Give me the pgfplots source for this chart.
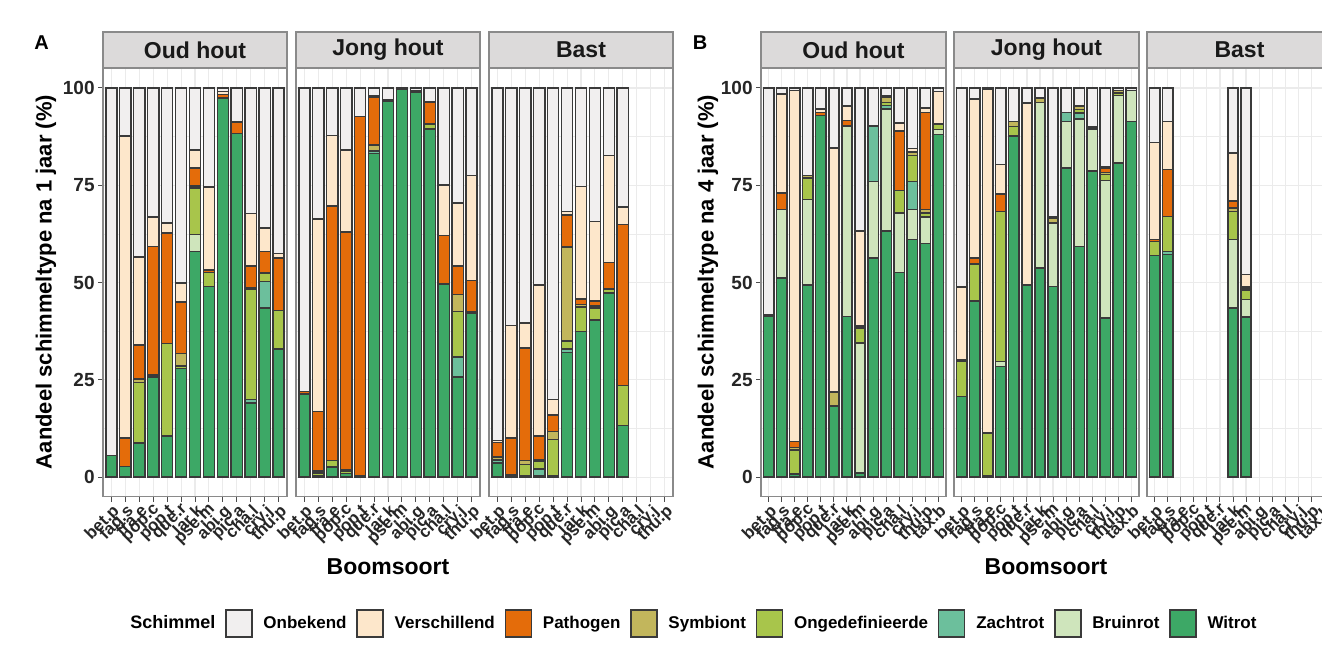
\documentclass[border=0pt]{standalone}
\usepackage{fontspec}
\setmainfont{Liberation Sans}
\usepackage{pgfplots}
\usepackage{pgfplotstable}
\pgfplotsset{compat=1.18}

\definecolor{cU}{HTML}{F1EFEF}
\definecolor{cV}{HTML}{FDE7CB}
\definecolor{cP}{HTML}{E46C0A}
\definecolor{cS}{HTML}{C2B65C}
\definecolor{cO}{HTML}{A8C54B}
\definecolor{cZ}{HTML}{6CBF9C}
\definecolor{cB}{HTML}{CFE5BC}
\definecolor{cW}{HTML}{3DA866}
\definecolor{bd}{HTML}{3A3A3A}
\definecolor{stripfill}{HTML}{DCDADA}
\definecolor{frame}{HTML}{8A8A8A}
\definecolor{gridc}{HTML}{EBEBEB}

% A: 1 jaar
\pgfplotstableread{
x W B Z O S P V U
1 5.6 0 0 0 0 0 0 94.4
2 2.7 0 0 0 0 7.3 77.6 12.4
3 8.7 0 0 15.6 0.9 8.7 22.6 43.5
4 25.7 0 0 0 0.5 33.1 7.5 33.2
5 10.5 0 0 23.8 0 28.4 2.6 34.7
6 27.9 0 0 0.7 3.2 13.2 4.9 50.1
7 58 4.4 0 11.9 0.5 4.6 4.6 16
8 49 0 0 3.6 0 0.6 21.3 25.5
9 97.4 0 0 0 0 0.9 0.8 0.9
10 88.3 0 0 0 0 2.9 0 8.8
11 19 0 0.9 28.4 0.3 5.7 13.4 32.3
12 43.4 0 6.9 2.1 0 5.6 6 36
13 32.9 0 0 9.9 0 13.5 1.1 42.6
}\AOud
\pgfplotstableread{
x W B Z O S P V U
1 21.4 0 0 0 0 0.6 0 78
2 0.3 0 0 0.8 0.4 15.4 49.4 33.7
3 2.6 0 0 1.7 0 65.3 18.2 12.2
4 0.9 0 0 0.6 0.5 61 21.1 15.9
5 0.3 0 0 0 0 92.4 0 7.3
6 83.1 0 0.7 0 1.6 12.3 0.4 1.9
7 96.6 0 0 0 0 0.4 0 3
8 99.6 0 0 0 0 0 0 0.4
9 98.9 0 0 0 0 0 0.4 0.7
10 89.5 0 0 1.3 0 5.6 0 3.6
11 49.6 0 0 0 0 12.5 12.9 25
12 25.7 0 5.1 11.8 4.3 7.3 16.2 29.6
13 42.2 0 0 0 0.4 7.9 27 22.5
}\AJong
\pgfplotstableread{
x W B Z O S P V U
1 3.6 0 0.8 0 0.8 3.7 0.5 90.6
2 0.5 0 0 0 0 9.5 28.9 61.1
3 0.3 0 0 2.9 1.1 28.9 6.4 60.4
4 0.3 0 1.8 1.9 0.4 6.1 38.9 50.6
5 0.3 0 0 9.3 2.1 4.2 4 80.1
6 32 0 0.9 2.1 24.1 8.3 0.9 31.7
7 37.4 0 0 6.3 0.6 1.5 28.9 25.3
8 40.4 0 0 3.1 0.4 1.3 20.5 34.3
9 47.3 0 0 1 0 6.9 27.4 17.4
10 13.2 0 0 10.3 0 41.4 4.5 30.6
}\ABast
% B: 4 jaar
\pgfplotstableread{
x W B Z O S P V U
1 41.3 0 0 0 0 0.4 0 58.3
2 51.2 17.5 0 0 0 4.3 25.5 1.5
3 0.8 0 0 6.2 0.6 1.6 90.2 0.6
4 49.4 21.9 0 5.6 0.6 0 0 22.5
5 92.9 0 0 0 0 0.8 0.9 5.4
6 18.2 0 0 0 3.6 0 62.8 15.4
7 41.3 48.9 0 0 0 1.5 3.6 4.7
8 1 33.4 0 3.9 0.5 0 24.5 36.7
9 56.3 19.7 14.2 0 0 0 0 9.8
10 63.2 31.4 0.9 0.7 1.3 0.4 0 2.1
11 52.6 15.3 0 5.8 0 15.2 2.1 9
12 61 7.7 7.3 6.6 0.9 0 1 15.5
13 60 6.8 0 1.1 0.8 25 1.2 5.1
14 88 1.3 0 1.5 0 0 8.3 0.9
}\BOud
\pgfplotstableread{
x W B Z O S P V U
1 20.7 0 0 9 0.4 0 18.7 51.2
2 45.2 0 0 9.6 0 1.5 40.9 2.8
3 0.3 0 0 11 0 0 88.3 0.4
4 28.4 1.3 0 38.6 0 4.5 7.5 19.7
5 87.6 0 0 2.5 1.3 0 0 8.6
6 49.4 0 0 0 0 0 46.7 3.9
7 53.7 42.6 0 0 1.1 0 0 2.6
8 49 16.3 0 0 1.3 0.4 0 33
9 79.4 12 2.3 0 0 0 0 6.3
10 59.3 32.7 1.6 0.8 1 0 0 4.6
11 78.6 10.9 0 0 0 0.5 0 10
12 40.9 35.3 0 1.5 0.6 1.1 0.4 20.2
13 80.7 17.3 0 0.7 0.7 0 0 0.6
14 91.4 8 0 0 0 0 0 0.6
}\BJong
\pgfplotstableread{
x W B Z O S P V U
1 56.9 0 0 3.7 0 0.5 24.9 14
2 57.2 0 0.8 9 0 12 12.4 8.6
7 43.4 17.6 0 7.3 0.9 1.7 12.4 16.7
8 41.1 4.5 0 2.3 0.4 0.5 3.2 48
}\BBast

\pgfplotsset{
  facet/.style={
    scale only axis, height=214pt,
    ymin=-5, ymax=105, xmin=0.4,
    ybar stacked, bar width=0.8,
    ytick={0,25,50,75,100},
    minor ytick={12.5,37.5,62.5,87.5},
    xmajorgrids, ymajorgrids, yminorgrids,
    major grid style={draw=gridc, line width=0.55pt},
    minor grid style={draw=gridc, line width=0.3pt},
    axis line style={draw=frame, line width=0.7pt},
    tick align=outside, xtick pos=bottom, ytick pos=left,
    major tick length=2.5pt, minor tick length=0pt,
    tick style={draw=black!70, line width=0.5pt},
    /pgf/number format/assume math mode=true,
    yticklabel style={font=\bfseries\fontsize{9.5}{10}\selectfont, text=black!85, inner sep=1.5pt},
    xticklabel style={rotate=45, anchor=north east, inner sep=0.5pt,
       font=\bfseries\fontsize{8.5}{8.5}\selectfont, text=black!85},
    every axis title/.style={at={(0.5,1)}, anchor=south, fill=stripfill, draw=frame,
       line width=0.7pt, minimum height=18pt, inner sep=0pt,
       font=\bfseries\fontsize{11.5}{12}\selectfont, text=black!90},
  },
  faceta/.style={facet, width=92pt, xmax=13.6, xtick={1,...,13},
    xticklabels={bet.p,fag.s,fra.e,pop.c,pop.t,que.r,lar.k,pse.m,abi.g,pic.a,cha.l,cry.j,thu.p},
    title style={minimum width=92pt}},
  facetb/.style={facet, width=92.5pt, xmax=14.6, xtick={1,...,14},
    xticklabels={bet.p,fag.s,fra.e,pop.c,pop.t,que.r,lar.k,pse.m,abi.g,pic.a,cha.l,cry.j,thu.p,tax.b},
    title style={minimum width=92.5pt}},
  noy/.style={yticklabels={}, ytick style={draw=none}},
  seg/.style={draw=bd, line width=0.75pt},
}

\newcommand\stackbars[1]{%
  \addplot[seg, fill=cW] table[x=x,y=W]{#1};
  \addplot[seg, fill=cB] table[x=x,y=B]{#1};
  \addplot[seg, fill=cZ] table[x=x,y=Z]{#1};
  \addplot[seg, fill=cO] table[x=x,y=O]{#1};
  \addplot[seg, fill=cS] table[x=x,y=S]{#1};
  \addplot[seg, fill=cP] table[x=x,y=P]{#1};
  \addplot[seg, fill=cV] table[x=x,y=V]{#1};
  \addplot[seg, fill=cU] table[x=x,y=U]{#1};
}

\begin{document}
\begin{tikzpicture}
\useasboundingbox (0,0) rectangle (661pt,-323.5pt);
\clip (0,0) rectangle (661pt,-323.5pt);

% Panel A
\begin{axis}[faceta, at={(51.5pt,-34.25pt)}, anchor=north west, title={Oud hout}]
\stackbars{\AOud}
\end{axis}
\begin{axis}[faceta, noy, at={(148pt,-34.25pt)}, anchor=north west, title={Jong hout}]
\stackbars{\AJong}
\end{axis}
\begin{axis}[faceta, noy, at={(244.5pt,-34.25pt)}, anchor=north west, title={Bast}]
\stackbars{\ABast}
\end{axis}

% Panel B
\begin{axis}[facetb, at={(380.5pt,-34.25pt)}, anchor=north west, title={Oud hout}]
\stackbars{\BOud}
\end{axis}
\begin{axis}[facetb, noy, at={(477pt,-34.25pt)}, anchor=north west, title={Jong hout}]
\stackbars{\BJong}
\end{axis}
\begin{axis}[facetb, noy, at={(573.5pt,-34.25pt)}, anchor=north west, title={Bast}]
\stackbars{\BBast}
\end{axis}

% Legend
\begin{axis}[hide axis, scale only axis, width=10pt, height=10pt,
  xmin=0, xmax=1, ymin=0, ymax=1,
  at={(344pt,-311.85pt)}, anchor=center,
  legend columns=-1,
  legend image code/.code={\draw[#1] (0pt,-6.75pt) rectangle (13pt,6.75pt);},
  legend style={at={(0.5,0.5)}, anchor=center, draw=none, fill=none,
    font=\bfseries\fontsize{8.5}{9}\selectfont,
    nodes={inner xsep=0pt, inner ysep=1pt},
    /tikz/every odd column/.append style={column sep=5.4pt},
    /tikz/every even column/.append style={column sep=4.9pt}},
  ]
  \addlegendimage{empty legend}
  \addlegendentry{\fontsize{9}{9}\selectfont Schimmel}
  \addlegendimage{seg, fill=cU}\addlegendentry{Onbekend}
  \addlegendimage{seg, fill=cV}\addlegendentry{Verschillend}
  \addlegendimage{seg, fill=cP}\addlegendentry{Pathogen}
  \addlegendimage{seg, fill=cS}\addlegendentry{Symbiont}
  \addlegendimage{seg, fill=cO}\addlegendentry{Ongedefinieerde}
  \addlegendimage{seg, fill=cZ}\addlegendentry{Zachtrot}
  \addlegendimage{seg, fill=cB}\addlegendentry{Bruinrot}
  \addlegendimage{seg, fill=cW}\addlegendentry{Witrot}
\end{axis}

% Titles and labels
\node[font=\bfseries\fontsize{10}{10}\selectfont] at (20.75pt,-21.25pt) {A};
\node[font=\bfseries\fontsize{10}{10}\selectfont] at (350pt,-21.25pt) {B};
\node[rotate=90, font=\bfseries\fontsize{11}{11}\selectfont] at (23pt,-141pt) {Aandeel schimmeltype na 1 jaar (\%)};
\node[rotate=90, font=\bfseries\fontsize{11}{11}\selectfont] at (354pt,-141pt) {Aandeel schimmeltype na 4 jaar (\%)};
\node[font=\bfseries\fontsize{11.5}{12}\selectfont] at (194pt,-283.5pt) {Boomsoort};
\node[font=\bfseries\fontsize{11.5}{12}\selectfont] at (523pt,-283.5pt) {Boomsoort};
\end{tikzpicture}
\end{document}
